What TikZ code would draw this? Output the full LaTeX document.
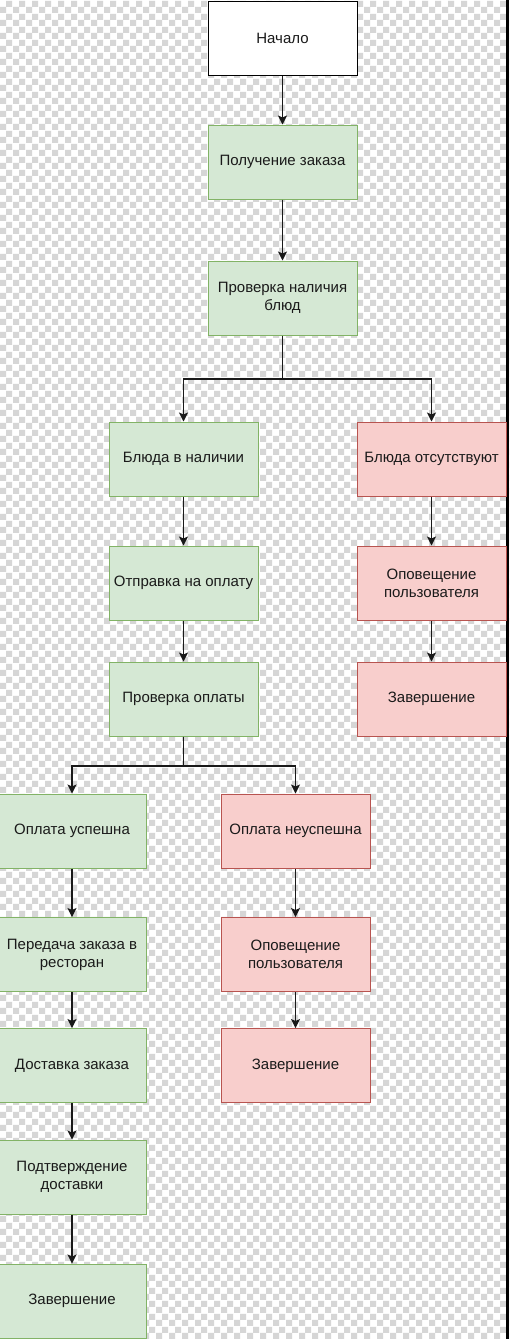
\documentclass[tikz,border=0pt]{standalone}
\usepackage{fontspec}
\setmainfont{Liberation Sans}
\usetikzlibrary{arrows.meta,patterns}
\definecolor{gfill}{HTML}{D5E8D4}
\definecolor{gline}{HTML}{82B366}
\definecolor{rfill}{HTML}{F8CECC}
\definecolor{rline}{HTML}{B85450}
\definecolor{checkgray}{HTML}{D6D6D6}
\definecolor{txt}{HTML}{1A1A1A}
\pgfdeclarepatternformonly{mychecker}{\pgfpointorigin}{\pgfqpoint{12.5pt}{12.5pt}}{\pgfqpoint{12.5pt}{12.5pt}}{%
  \pgfpathrectangle{\pgfpointorigin}{\pgfqpoint{6.25pt}{6.25pt}}%
  \pgfpathrectangle{\pgfqpoint{6.25pt}{6.25pt}}{\pgfqpoint{6.25pt}{6.25pt}}%
  \pgfusepath{fill}}
\tikzset{
  box/.style={rectangle, minimum width=149pt, minimum height=74pt, inner sep=0pt,
    align=center, line width=1pt, text=txt, font=\fontsize{15}{18}\selectfont},
  startbox/.style={box, draw=black, fill=white},
  greenbox/.style={box, draw=gline, fill=gfill},
  redbox/.style={box, draw=rline, fill=rfill},
  arr/.style={draw=black!90, line width=1.1pt, -{Stealth[length=9pt,width=9pt,inset=2pt]}}
}
\begin{document}
\begin{tikzpicture}[x=1pt,y=-1pt]
\useasboundingbox (0,0) rectangle (509,1339);
\fill[white] (0,0) rectangle (509,1339);
\fill[pattern=mychecker, pattern color=checkgray] (0,0) rectangle (509,1339);
\fill[black] (506,0) rectangle (509,1339);

\node[startbox] (start) at (282.5,38) {Начало};
\node[greenbox] (get) at (282.5,162) {Получение заказа};
\node[greenbox] (check) at (282.5,298) {Проверка наличия\\блюд};
\node[greenbox] (avail) at (183.5,459) {Блюда в наличии};
\node[redbox] (absent) at (431.5,459) {Блюда отсутствуют};
\node[greenbox] (pay) at (183.5,583) {Отправка на оплату};
\node[redbox] (notifyA) at (431.5,583) {Оповещение\\пользователя};
\node[greenbox] (checkpay) at (183.5,699) {Проверка оплаты};
\node[redbox] (endA) at (431.5,699) {Завершение};
\node[greenbox] (ok) at (72,831) {Оплата успешна};
\node[redbox] (fail) at (295.5,831) {Оплата неуспешна};
\node[greenbox] (transfer) at (72,954.5) {Передача заказа в\\ресторан};
\node[redbox] (notifyB) at (295.5,954.5) {Оповещение\\пользователя};
\node[greenbox] (deliver) at (72,1065.5) {Доставка заказа};
\node[redbox] (endB) at (295.5,1065.5) {Завершение};
\node[greenbox] (confirm) at (72,1177) {Подтверждение\\доставки};
\node[greenbox] (endC) at (72,1301) {Завершение};

\coordinate (br1) at (0,379);
\coordinate (br2) at (0,766);

\draw[arr] (start) -- (get);
\draw[arr] (get) -- (check);
\draw[arr] (check.south) -- (check.south |- br1) -| (avail.north);
\draw[arr] (check.south) -- (check.south |- br1) -| (absent.north);
\draw[arr] (avail) -- (pay);
\draw[arr] (pay) -- (checkpay);
\draw[arr] (absent) -- (notifyA);
\draw[arr] (notifyA) -- (endA);
\draw[arr] (checkpay.south) -- (checkpay.south |- br2) -| (ok.north);
\draw[arr] (checkpay.south) -- (checkpay.south |- br2) -| (fail.north);
\draw[arr] (ok) -- (transfer);
\draw[arr] (transfer) -- (deliver);
\draw[arr] (deliver) -- (confirm);
\draw[arr] (confirm) -- (endC);
\draw[arr] (fail) -- (notifyB);
\draw[arr] (notifyB) -- (endB);
\end{tikzpicture}
\end{document}
